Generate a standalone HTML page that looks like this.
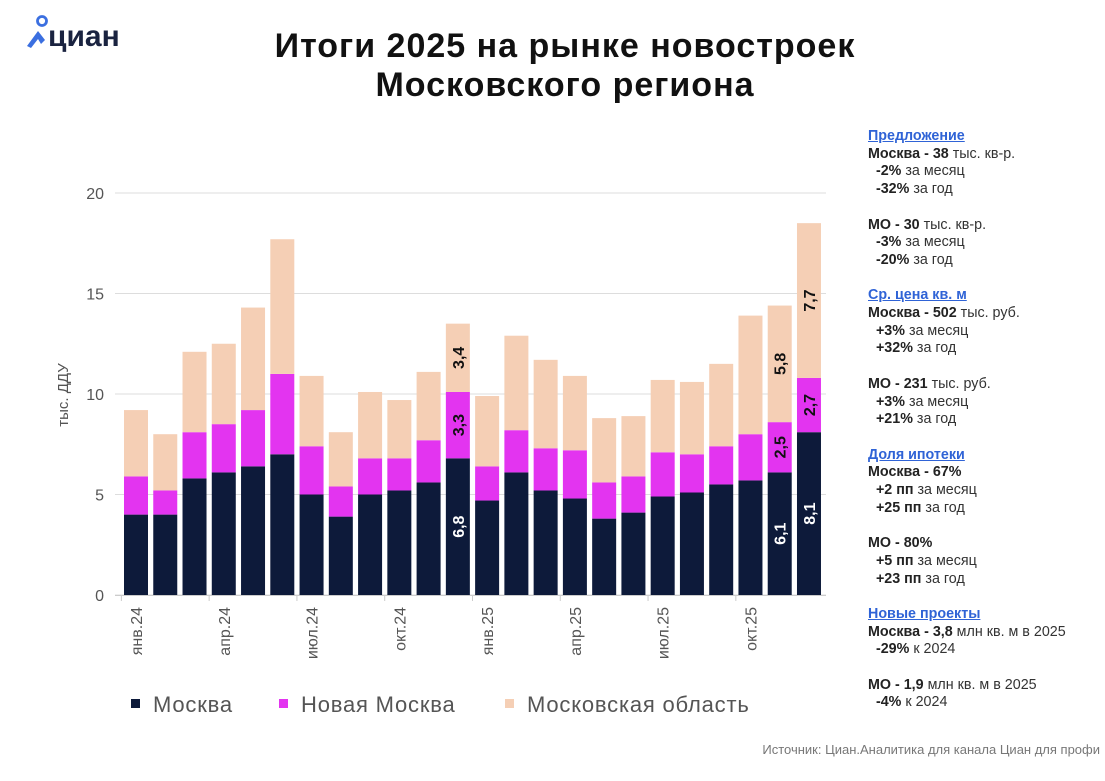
<!DOCTYPE html>
<html><head><meta charset="utf-8">
<style>
body{margin:0;width:1105px;height:781px;background:#fff;font-family:"Liberation Sans",sans-serif;overflow:hidden;position:relative}
.rp{position:absolute;left:868px;top:128px;font-size:14.3px;color:#333;line-height:17.7px;white-space:nowrap}
.rp b{color:#222}
.rp .h{color:#2f63d6;font-weight:bold;text-decoration:underline}
.rp .g{height:17.7px}
</style></head><body>
<svg width="1105" height="781" style="position:absolute;left:0;top:0">
 <g>
  <circle cx="42" cy="21" r="4.5" fill="none" stroke="#3b6fe0" stroke-width="2.8"/>
  <path d="M27 46 L38 31 L45 40 L41 44 L38 39 L31 48 Z" fill="#3b6fe0"/>
  <text x="48" y="46" font-size="30" font-weight="bold" fill="#1a2340">циан</text>
 </g>
 <text x="565" y="57" text-anchor="middle" font-size="34" font-weight="bold" letter-spacing="1" fill="#111">Итоги 2025 на рынке новостроек</text>
 <text x="565" y="96" text-anchor="middle" font-size="34" font-weight="bold" letter-spacing="1" fill="#111">Московского региона</text>
 <g id="grid"></g><g id="bars"></g><g id="axes"></g>
 <text transform="translate(68,395) rotate(-90)" text-anchor="middle" font-size="15" fill="#555">тыс. ДДУ</text>
 <g font-size="22" letter-spacing="0.8" fill="#555">
  <rect x="131" y="699" width="9" height="9" fill="#0d1a3a"/><text x="153" y="712">Москва</text>
  <rect x="279" y="699" width="9" height="9" fill="#e334f0"/><text x="301" y="712">Новая Москва</text>
  <rect x="505" y="699" width="9" height="9" fill="#f5cfb5"/><text x="527" y="712">Московская область</text>
 </g>
 <text x="1100" y="754" text-anchor="end" font-size="13" fill="#777">Источник: Циан.Аналитика для канала Циан для профи</text>
</svg>
<div class="rp">
<div class="h">Предложение</div>
<div><b>Москва - 38</b> тыс. кв-р.</div><div>&nbsp;&nbsp;<b>-2%</b> за месяц</div><div>&nbsp;&nbsp;<b>-32%</b> за год</div><div class="g"></div>
<div><b>МО - 30</b> тыс. кв-р.</div><div>&nbsp;&nbsp;<b>-3%</b> за месяц</div><div>&nbsp;&nbsp;<b>-20%</b> за год</div><div class="g"></div>
<div class="h">Ср. цена кв. м</div>
<div><b>Москва - 502</b> тыс. руб.</div><div>&nbsp;&nbsp;<b>+3%</b> за месяц</div><div>&nbsp;&nbsp;<b>+32%</b> за год</div><div class="g"></div>
<div><b>МО - 231</b> тыс. руб.</div><div>&nbsp;&nbsp;<b>+3%</b> за месяц</div><div>&nbsp;&nbsp;<b>+21%</b> за год</div><div class="g"></div>
<div class="h">Доля ипотеки</div>
<div><b>Москва - 67%</b></div><div>&nbsp;&nbsp;<b>+2 пп</b> за месяц</div><div>&nbsp;&nbsp;<b>+25 пп</b> за год</div><div class="g"></div>
<div><b>МО - 80%</b></div><div>&nbsp;&nbsp;<b>+5 пп</b> за месяц</div><div>&nbsp;&nbsp;<b>+23 пп</b> за год</div><div class="g"></div>
<div class="h">Новые проекты</div>
<div><b>Москва - 3,8</b> млн кв. м в 2025</div><div>&nbsp;&nbsp;<b>-29%</b> к 2024</div><div class="g"></div>
<div><b>МО - 1,9</b> млн кв. м в 2025</div><div>&nbsp;&nbsp;<b>-4%</b> к 2024</div>
</div>
<script>
const months=["янв.24","фев.24","мар.24","апр.24","май.24","июн.24","июл.24","авг.24","сен.24","окт.24","ноя.24","дек.24","янв.25","фев.25","мар.25","апр.25","май.25","июн.25","июл.25","авг.25","сен.25","окт.25","ноя.25","дек.25"];
const moscow=[4.0,4.0,5.8,6.1,6.4,7.0,5.0,3.9,5.0,5.2,5.6,6.8,4.7,6.1,5.2,4.8,3.8,4.1,4.9,5.1,5.5,5.7,6.1,8.1];
const newMoscow=[1.9,1.2,2.3,2.4,2.8,4.0,2.4,1.5,1.8,1.6,2.1,3.3,1.7,2.1,2.1,2.4,1.8,1.8,2.2,1.9,1.9,2.3,2.5,2.7];
const region=[3.3,2.8,4.0,4.0,5.1,6.7,3.5,2.7,3.3,2.9,3.4,3.4,3.5,4.7,4.4,3.7,3.2,3.0,3.6,3.6,4.1,5.9,5.8,7.7];
const yTicks=[0,5,10,15,20];
const labeled=[11,22,23];
const NS="http://www.w3.org/2000/svg";
const y0=595,pxu=20.1,x0=136,step=29.26,bw=24;
const Y=v=>y0-v*pxu, X=i=>x0+i*step;
function mk(t,a,p){const e=document.createElementNS(NS,t);for(const k in a)e.setAttribute(k,a[k]);p.appendChild(e);return e;}
const grid=document.getElementById('grid'),bars=document.getElementById('bars'),axes=document.getElementById('axes');
yTicks.forEach(t=>{
 const l=mk('line',{x1:115,x2:826,y1:Y(t),y2:Y(t),stroke:'#ddd','stroke-width':1},grid);
 
 
 const tx=mk('text',{x:104,y:Y(t)+6,'text-anchor':'end','font-size':16,fill:'#555'},axes);
 tx.textContent=t;
 
 
});
const fmt=v=>v.toFixed(1).replace('.',',');
months.forEach((m,i)=>{
 const segs=[[moscow[i],'#0d1a3a','#fff','bar-moscow'],[newMoscow[i],'#e334f0','#111','bar-new-moscow'],[region[i],'#f5cfb5','#111','bar-region']];
 let base=0;
 segs.forEach(s=>{
  const r=mk('rect',{x:X(i)-bw/2,y:Y(base+s[0]),width:bw,height:s[0]*pxu,fill:s[1]},bars);
  
  
  if(labeled.includes(i)){
   const cy=Y(base+s[0]/2);
   const t=mk('text',{transform:`translate(${X(i)+6},${cy}) rotate(-90)`,'text-anchor':'middle','font-size':16,'font-weight':'bold',fill:s[2]},bars);
   t.textContent=fmt(s[0]);
   
   
  }
  base+=s[0];
 });
 if(i%3===0){
  const t=mk('text',{transform:`translate(${X(i)+6},${607}) rotate(-90)`,'text-anchor':'end','font-size':16,fill:'#555'},axes);
  t.textContent=m;
  
  
  mk('line',{x1:X(i)-step/2,x2:X(i)-step/2,y1:596,y2:601,stroke:'#ccc'},axes);
 }
});
mk('line',{x1:115,x2:826,y1:595.5,y2:595.5,stroke:'#ccc'},axes);
</script>
</body></html>
